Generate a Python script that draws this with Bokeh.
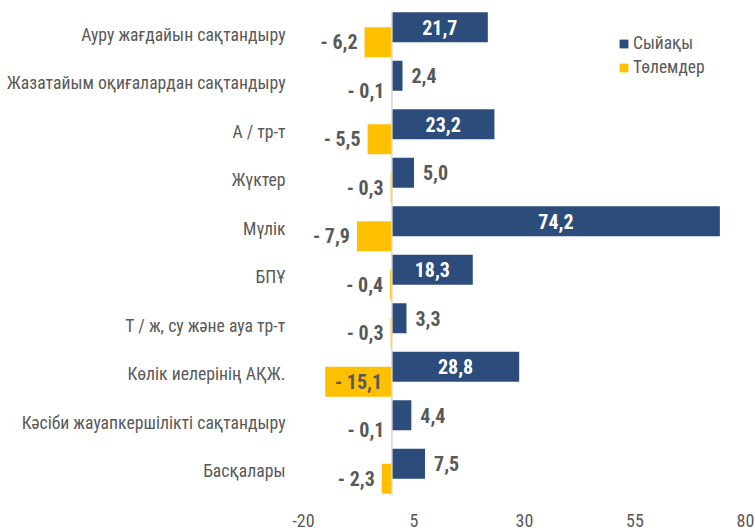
from bokeh.plotting import figure
from bokeh.models import (ColumnDataSource, FactorRange, Range1d, FixedTicker,
                          Span, Legend, LegendItem)
from bokeh.transform import dodge
from bokeh.core.properties import value
from bokeh.embed import file_html
from bokeh.resources import INLINE

categories = [
    "Ауру жағдайын сақтандыру",
    "Жазатайым оқиғалардан сақтандыру",
    "А / тр-т",
    "Жүктер",
    "Мүлік",
    "БПҰ",
    "Т / ж, су және ауа тр-т",
    "Көлік иелерінің АҚЖ.",
    "Кәсіби жауапкершілікті сақтандыру",
    "Басқалары",
]
premiums = [21.7, 2.4, 23.2, 5.0, 74.2, 18.3, 3.3, 28.8, 4.4, 7.5]
payments = [-6.2, -0.1, -5.5, -0.3, -7.9, -0.4, -0.3, -15.1, -0.1, -2.3]
tick_values = [-20, 5, 30, 55, 80]
series_names = ["Сыйақы", "Төлемдер"]

FONT = "Roboto Condensed"
BLUE = "#2C4D7B"
YELLOW = "#FFC000"
GREY = "#595959"
OFF = 0.155
BAR_H = 0.62
INSIDE = 12

p = figure(width=755, height=531,
           y_range=FactorRange(factors=list(reversed(categories)), range_padding=0),
           x_range=Range1d(-20, 80),
           output_backend="svg", toolbar_location=None,
           min_border_left=303, min_border_right=10,
           min_border_top=10, min_border_bottom=36)

src = ColumnDataSource(dict(cat=categories, prem=premiums, pay=payments))

r_prem = p.hbar(y=dodge("cat", OFF, range=p.y_range), left=0, right="prem",
                height=BAR_H, fill_color=BLUE, line_color=None, source=src)
r_pay = p.hbar(y=dodge("cat", -OFF, range=p.y_range), left=0, right="pay",
               height=BAR_H, fill_color=YELLOW, line_color=None, source=src)

p.add_layout(Span(location=0, dimension="height", line_color="#d9d9d9",
                  line_width=1.5))


def fmt(v):
    s = f"{abs(v):.1f}".replace(".", ",")
    return s if v >= 0 else "- " + s


def groups(vals):
    inside = dict(cat=[], x=[], t=[])
    outside = dict(cat=[], x=[], t=[])
    for c, v in zip(categories, vals):
        d = inside if abs(v) > INSIDE else outside
        d["cat"].append(c)
        d["x"].append(v / 2 if d is inside else v)
        d["t"].append(fmt(v))
    return ColumnDataSource(inside), ColumnDataSource(outside)


label_kw = dict(text_font=value(FONT), text_font_style="bold",
                text_font_size="20px", text_baseline="middle")

pi, po = groups(premiums)
p.text(x="x", y=dodge("cat", OFF, range=p.y_range), text="t", source=pi,
       text_align="center", text_color="white", **label_kw)
p.text(x="x", y=dodge("cat", OFF, range=p.y_range), text="t", source=po,
       text_align="left", x_offset=9, text_color=GREY, **label_kw)

yi, yo = groups(payments)
p.text(x="x", y=dodge("cat", -OFF, range=p.y_range), text="t", source=yi,
       text_align="center", text_color=GREY, **label_kw)
p.text(x="x", y=dodge("cat", -OFF, range=p.y_range), text="t", source=yo,
       text_align="right", x_offset=-7, text_color=GREY, **label_kw)

legend = Legend(items=[LegendItem(label=series_names[0], renderers=[r_prem]),
                       LegendItem(label=series_names[1], renderers=[r_pay])],
                location=(315, 418), glyph_width=11, glyph_height=11,
                label_standoff=4, spacing=4, padding=0, label_height=20,
                label_text_font=FONT, label_text_font_size="17.5px",
                label_text_color=GREY, border_line_alpha=0,
                background_fill_alpha=0)
p.add_layout(legend, "center")

p.xgrid.visible = False
p.ygrid.visible = False
p.outline_line_color = None

p.xaxis.ticker = FixedTicker(ticks=tick_values)
p.xaxis.major_label_overrides = {t: str(t) for t in tick_values}
p.xaxis.axis_line_color = None
p.xaxis.major_tick_line_color = None
p.xaxis.minor_tick_line_color = None
p.xaxis.major_tick_out = 0
p.xaxis.major_tick_in = 0
p.xaxis.major_label_standoff = 18
p.xaxis.major_label_text_font = FONT
p.xaxis.major_label_text_font_size = "18px"
p.xaxis.major_label_text_color = GREY

p.yaxis.axis_line_color = None
p.yaxis.major_tick_line_color = None
p.yaxis.minor_tick_line_color = None
p.yaxis.major_tick_out = 0
p.yaxis.major_tick_in = 0
p.yaxis.major_label_standoff = 18
p.yaxis.major_label_text_font = FONT
p.yaxis.major_label_text_font_size = "17.7px"
p.yaxis.major_label_text_color = GREY

open("out.html", "w").write(file_html(p, INLINE))
